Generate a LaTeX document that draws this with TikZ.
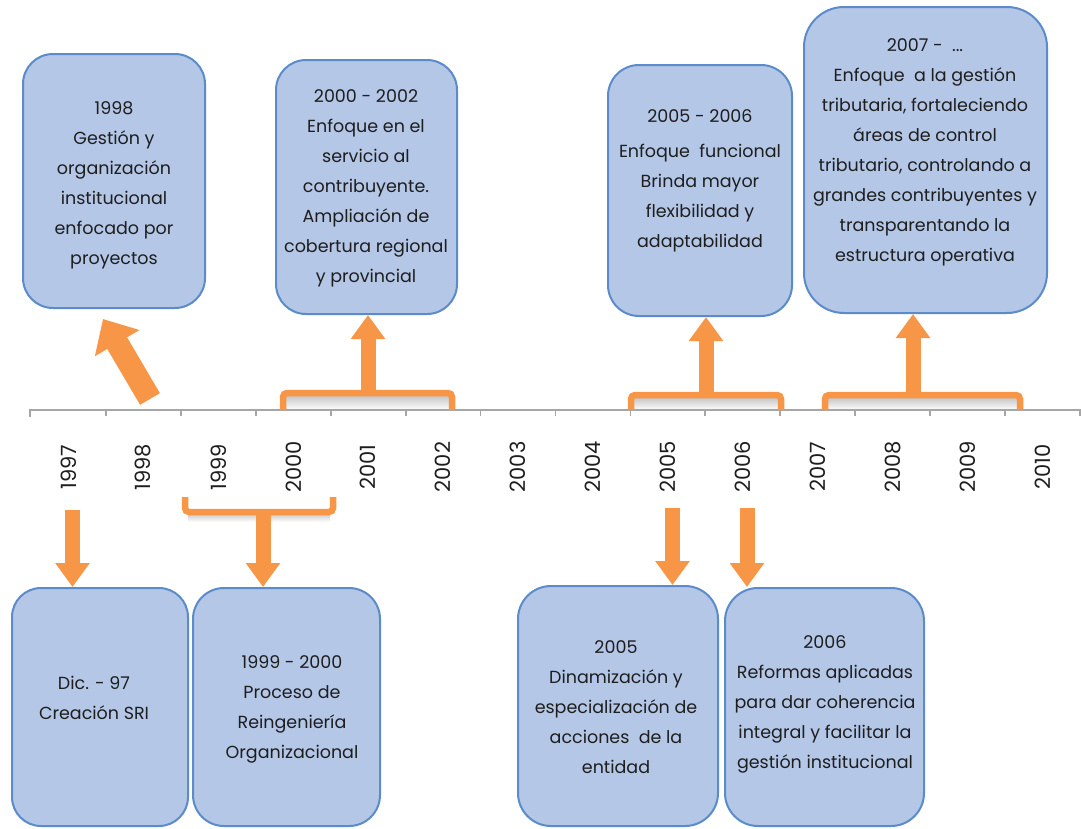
\documentclass[tikz,border=0pt]{standalone}
\usepackage{fontspec}
\setmainfont{Poppins}
\usetikzlibrary{arrows.meta}

\definecolor{boxfill}{HTML}{B4C7E7}
\definecolor{boxline}{HTML}{5B8BC9}
\definecolor{accent}{HTML}{F79646}
\definecolor{ink}{HTML}{1E1E1E}
\definecolor{axisgray}{HTML}{A6A6A6}

\tikzset{
  eventbox/.style={draw=boxline, line width=2pt, fill=boxfill, rectangle, inner sep=0pt},
  boxtext/.style={align=center, text=ink, inner sep=0pt,
    font=\fontsize{17.5}{30}\selectfont},
  yearlabel/.style={rotate=90, text=ink, inner sep=0pt,
    font=\fontsize{21}{22}\selectfont},
  blockarrow/.style={accent, line width=15pt,
    -{Triangle[width=33pt,length=24pt]}},
  bigarrow/.style={accent, line width=23pt,
    -{Triangle[width=50pt,length=28pt]}},
  bracketline/.style={accent, line width=6.5pt, rounded corners=4pt, line cap=butt},
  timeaxis/.style={axisgray, line width=1.8pt},
}

\begin{document}
\begin{tikzpicture}[x=1pt,y=-1pt]
\useasboundingbox (0,0) rectangle (1081,828);

% ---- event boxes above the axis ----
\node[eventbox, minimum width=182pt, minimum height=254pt, rounded corners=30pt] (bA) at (114,181) {};
\node[eventbox, minimum width=181pt, minimum height=254pt, rounded corners=30pt] (bB) at (366.5,187) {};
\node[eventbox, minimum width=184pt, minimum height=251pt, rounded corners=31pt] (bC) at (700,190.5) {};
\node[eventbox, minimum width=243pt, minimum height=306pt, rounded corners=40pt] (bD) at (925.5,160) {};

% ---- event boxes below the axis ----
\node[eventbox, minimum width=176pt, minimum height=238pt, rounded corners=29pt] (bE) at (100,707) {};
\node[eventbox, minimum width=187pt, minimum height=238pt, rounded corners=31pt] (bF) at (286.5,707) {};
\node[eventbox, minimum width=200pt, minimum height=240pt, rounded corners=33pt] (bG) at (618,706) {};
\node[eventbox, minimum width=199pt, minimum height=238pt, rounded corners=33pt] (bH) at (824.5,707) {};

% ---- box texts ----
\node[boxtext] (tA) at (114,185.5) {1998\\Gestión y\\organización\\institucional\\enfocado por\\proyectos};
\node[boxtext] (tB) at (366,188.5) {2000 - 2002\\Enfoque en el\\servicio al\\contribuyente.\\Ampliación de\\cobertura regional\\y provincial};
\node[boxtext] (tC) at (700,181) {2005 - 2006\\[5pt]Enfoque\ \ funcional\\Brinda mayor\\flexibilidad y\\adaptabilidad};
\node[boxtext] (tD) at (925,152) {2007 -\ \ ...\\Enfoque\ \ a la gestión\\tributaria, fortaleciendo\\áreas de control\\tributario, controlando a\\grandes contribuyentes y\\transparentando la\\estructura operativa};
\node[boxtext] (tE) at (94,697.5) {Dic. - 97\\Creación SRI};
\node[boxtext] (tF) at (292,709) {1999 - 2000\\Proceso de\\Reingeniería\\Organizacional};
\node[boxtext] (tG) at (616,707) {2005\\Dinamización y\\especialización de\\acciones\ \ de la\\entidad};
\node[boxtext] (tH) at (825,704) {2006\\Reformas aplicadas\\para dar coherencia\\integral y facilitar la\\gestión institucional};

% ---- soft shading under the brackets ----
\shade[top color=black!22, bottom color=white] (286,396) rectangle (449,410);
\shade[top color=black!22, bottom color=white] (634,398) rectangle (778,410);
\shade[top color=black!22, bottom color=white] (828,398) rectangle (1017,410);
\shade[top color=black!18, bottom color=white] (188,515) rectangle (330,522);

% ---- time axis ----
\draw[timeaxis] (30,417) -- (30,410) -- (1081,410);
\foreach \k in {1,...,14}
  \draw[timeaxis] ({31+74.93*\k},410) -- ({31+74.93*\k},416);
\foreach \yr [count=\k from 0] in {1997,1998,1999,2000,2001,2002,2003,2004,2005,2006,2007,2008,2009,2010}
  \node[yearlabel] (y\yr) at ({68.5+74.93*\k},467) {\yr};

% ---- brackets ----
\draw[bracketline] (283,410) -- (283,393) -- (452,393) -- (452,410);
\draw[bracketline] (631,410) -- (631,395) -- (781,395) -- (781,410);
\draw[bracketline] (825,410) -- (825,395) -- (1020,395) -- (1020,410);
\draw[bracketline] (185,497) -- (185,512) -- (333,512) -- (333,497);

% ---- arrows ----
\coordinate (s98) at (150,399);
\coordinate (e98) at (103,319);
\draw[bigarrow] (s98) -- (e98);

\coordinate (sB) at (368,392);
\draw[blockarrow] (sB) -- (sB |- bB.south);
\coordinate (sC) at (706,394);
\draw[blockarrow] (sC) -- (sC |- bC.south);
\coordinate (sD) at (913,394);
\draw[blockarrow] (sD) -- (sD |- bD.south);

\coordinate (s97) at (72.5,510);
\draw[blockarrow] (s97) -- (s97 |- bE.north);
\coordinate (sF) at (263,513);
\draw[blockarrow] (sF) -- (sF |- bF.north);
\coordinate (s05) at (672.5,508);
\draw[blockarrow] (s05) -- (s05 |- bG.north);
\coordinate (s06) at (747,508);
\draw[blockarrow] (s06) -- (s06 |- bH.north);
\end{tikzpicture}
\end{document}
